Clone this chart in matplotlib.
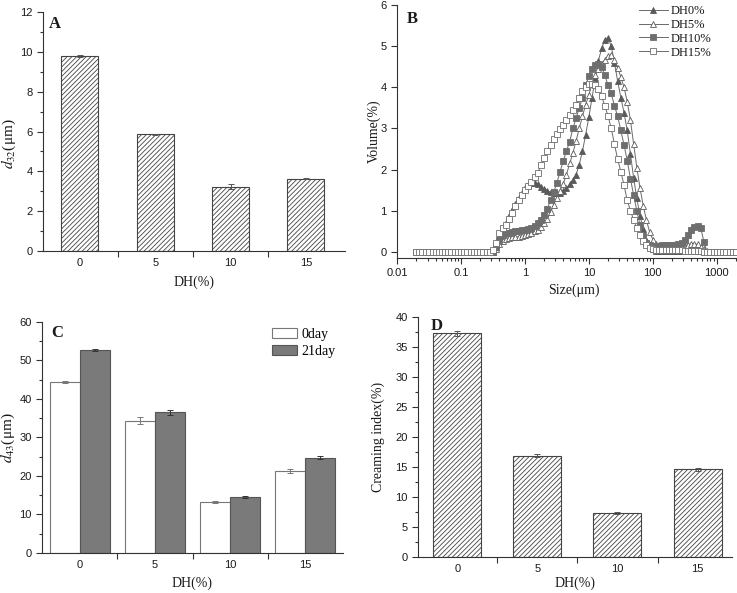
import matplotlib
matplotlib.use('Agg')
import matplotlib.pyplot as plt
from matplotlib.ticker import MultipleLocator, FixedLocator, LogLocator, NullFormatter, FixedFormatter

plt.rcParams['font.family'] = ['Liberation Sans', 'DejaVu Sans']
plt.rcParams['mathtext.fontset'] = 'stix'
plt.rcParams['hatch.linewidth'] = 0.6
plt.rcParams['hatch.color'] = '#6a6a6a'

# ---------------- data ----------------
dh_labels = ['0', '5', '10', '15']

d32 = [9.80, 5.87, 3.23, 3.63]
d32_err = [0.05, 0.03, 0.12, 0.03]

d43_day0 = [44.5, 34.4, 13.3, 21.3]
d43_day0_err = [0.3, 0.9, 0.3, 0.5]
d43_day21 = [52.7, 36.5, 14.6, 24.8]
d43_day21_err = [0.3, 0.6, 0.3, 0.5]

creaming = [37.3, 16.9, 7.3, 14.6]
creaming_err = [0.4, 0.2, 0.2, 0.3]

size_um = [0.020, 0.022, 0.025, 0.028, 0.032, 0.036, 0.040, 0.045, 0.050, 0.056,
           0.063, 0.071, 0.080, 0.089, 0.100, 0.112, 0.126, 0.142, 0.159, 0.178,
           0.200, 0.224, 0.252, 0.283, 0.317, 0.356, 0.399, 0.448, 0.502, 0.564,
           0.632, 0.710, 0.796, 0.893, 1.002, 1.125, 1.262, 1.416, 1.589, 1.783,
           2.000, 2.244, 2.518, 2.825, 3.170, 3.557, 3.991, 4.477, 5.024, 5.637,
           6.325, 7.096, 7.962, 8.934, 10.024, 11.247, 12.619, 14.159, 15.887, 17.825,
           20.000, 22.440, 25.179, 28.251, 31.698, 35.566, 39.905, 44.774, 50.238, 56.368,
           63.246, 70.963, 79.621, 89.337, 100.237, 112.468, 126.191, 141.589, 158.866, 178.250,
           200.000, 224.404, 251.785, 282.508, 316.979, 355.656, 399.052, 447.744, 502.377, 563.677,
           632.456, 709.627, 796.214, 893.367, 1002.374, 1124.683, 1261.915, 1415.892, 1588.656, 1782.502,
           2000.000]

vol_dh0 = [0, 0, 0, 0, 0, 0, 0, 0, 0, 0,
           0, 0, 0, 0, 0, 0, 0, 0, 0, 0,
           0, 0, 0, 0, 0, 0.12, 0.32, 0.52, 0.70, 0.86,
           1.02, 1.17, 1.30, 1.44, 1.55, 1.63, 1.68, 1.68, 1.64, 1.58,
           1.53, 1.49, 1.45, 1.43, 1.42, 1.44, 1.48, 1.55, 1.64, 1.74,
           1.88, 2.12, 2.45, 2.85, 3.28, 3.75, 4.22, 4.65, 4.95, 5.15,
           5.21, 5.00, 4.60, 4.15, 3.75, 3.38, 2.95, 2.38, 1.80, 1.30,
           0.88, 0.55, 0.30, 0.15, 0.07, 0.03, 0.02, 0.02, 0.02, 0.02,
           0.02, 0.02, 0.02, 0.02, 0.02, 0.02, 0.02, 0.02, 0.02, 0.01,
           0, 0, 0, 0, 0, 0, 0, 0, 0, 0,
           0]

vol_dh5 = [0, 0, 0, 0, 0, 0, 0, 0, 0, 0,
           0, 0, 0, 0, 0, 0, 0, 0, 0, 0,
           0, 0, 0, 0, 0, 0.08, 0.18, 0.26, 0.31, 0.34,
           0.35, 0.36, 0.37, 0.38, 0.40, 0.43, 0.47, 0.50, 0.54, 0.61,
           0.70, 0.80, 0.96, 1.15, 1.32, 1.48, 1.66, 1.88, 2.15, 2.40,
           2.70, 3.00, 3.30, 3.58, 3.82, 4.07, 4.30, 4.45, 4.57, 4.67,
           4.75, 4.78, 4.66, 4.48, 4.25, 4.00, 3.65, 3.20, 2.62, 2.05,
           1.55, 1.12, 0.78, 0.48, 0.30, 0.20, 0.13, 0.10, 0.08, 0.07,
           0.07, 0.08, 0.10, 0.12, 0.14, 0.17, 0.19, 0.20, 0.18, 0.12,
           0.06, 0.02, 0, 0, 0, 0, 0, 0, 0, 0,
           0]

vol_dh10 = [0, 0, 0, 0, 0, 0, 0, 0, 0, 0,
            0, 0, 0, 0, 0, 0, 0, 0, 0, 0,
            0, 0, 0, 0, 0, 0.12, 0.30, 0.40, 0.45, 0.47,
            0.49, 0.50, 0.51, 0.52, 0.54, 0.56, 0.59, 0.64, 0.70, 0.78,
            0.89, 1.05, 1.25, 1.45, 1.68, 1.95, 2.22, 2.45, 2.68, 3.00,
            3.25, 3.50, 3.75, 4.05, 4.28, 4.45, 4.55, 4.57, 4.49, 4.29,
            4.05, 3.85, 3.55, 3.30, 2.95, 2.60, 2.22, 1.78, 1.38, 1.00,
            0.65, 0.38, 0.22, 0.16, 0.14, 0.14, 0.15, 0.16, 0.16, 0.16,
            0.16, 0.17, 0.18, 0.22, 0.30, 0.42, 0.52, 0.60, 0.62, 0.58,
            0.24, 0, 0, 0, 0, 0, 0, 0, 0, 0,
            0]

vol_dh15 = [0, 0, 0, 0, 0, 0, 0, 0, 0, 0,
            0, 0, 0, 0, 0, 0, 0, 0, 0, 0,
            0, 0, 0, 0, 0.05, 0.22, 0.45, 0.58, 0.66, 0.80,
            0.95, 1.12, 1.25, 1.37, 1.50, 1.60, 1.70, 1.82, 1.92, 2.10,
            2.28, 2.45, 2.60, 2.75, 2.87, 2.98, 3.08, 3.20, 3.32, 3.45,
            3.58, 3.75, 3.92, 4.00, 4.07, 4.08, 4.05, 3.96, 3.78, 3.55,
            3.30, 3.00, 2.62, 2.25, 1.95, 1.62, 1.25, 1.00, 0.78, 0.58,
            0.42, 0.27, 0.16, 0.09, 0.06, 0.05, 0.05, 0.05, 0.05, 0.05,
            0.05, 0.05, 0.04, 0.04, 0.03, 0.03, 0.02, 0.02, 0.02, 0.01,
            0, 0, 0, 0, 0, 0, 0, 0, 0, 0,
            0]

# ---------------- style helpers ----------------
SPINE = '#333333'
TXT = '#1a1a1a'
SERIF = ['Liberation Serif', 'DejaVu Serif']


def style_axes(ax):
    for s in ['top', 'right']:
        ax.spines[s].set_visible(False)
    for s in ['left', 'bottom']:
        ax.spines[s].set_color(SPINE)
        ax.spines[s].set_linewidth(0.8)
    ax.tick_params(which='both', direction='out', color=SPINE, width=0.8,
                   labelsize=8, labelcolor=TXT)
    ax.tick_params(which='major', length=4)
    ax.tick_params(which='minor', length=2)


def category_ticks(ax):
    ax.set_xticks(range(len(dh_labels)))
    ax.set_xticklabels(dh_labels)
    ax.tick_params(axis='x', which='major', length=0, pad=5)
    ax.xaxis.set_minor_locator(FixedLocator([0.5, 1.5, 2.5]))
    ax.tick_params(axis='x', which='minor', length=4)


def labels(ax, xlabel, ylabel, xpos, ypos, xsize=10, ysize=10):
    ax.set_xlabel(xlabel, fontsize=xsize, family=SERIF, color=TXT)
    ax.xaxis.label.set_va('center')
    ax.xaxis.set_label_coords(xpos[0], xpos[1])
    ax.set_ylabel(ylabel, fontsize=ysize, family=SERIF, color=TXT)
    ax.yaxis.label.set_va('center')
    ax.yaxis.set_label_coords(ypos[0], ypos[1])


fig = plt.figure(figsize=(7.37, 5.93), dpi=100)

# ---------------- A ----------------
axA = fig.add_axes([0.0583, 0.5767, 0.4098, 0.4030])
style_axes(axA)
xA = list(range(len(dh_labels)))
axA.bar(xA, d32, width=0.49, color='white', edgecolor='#444444', linewidth=0.8,
        hatch='///////', zorder=2)
axA.errorbar(xA, d32, yerr=d32_err, fmt='none', ecolor='#555555', elinewidth=0.7,
             capsize=2, capthick=0.7, zorder=3)
axA.set_xlim(-0.49, 3.52)
axA.set_ylim(0, 12)
axA.yaxis.set_major_locator(MultipleLocator(2))
axA.yaxis.set_minor_locator(MultipleLocator(1))
category_ticks(axA)
labels(axA, 'DH(%)', r'$d_{32}$(μm)', (0.5, -0.13), (-0.112, 0.45), ysize=11)
axA.text(0.02, 0.985, 'A', transform=axA.transAxes, fontsize=12, fontweight='bold',
         family=SERIF, va='top', ha='left', color=TXT)

# ---------------- B ----------------
axB = fig.add_axes([0.5387, 0.5649, 0.4613, 0.4266])
style_axes(axB)
series = [
    (vol_dh0, 'DH0%', '^', '#5a5a5a', '#5a5a5a'),
    (vol_dh5, 'DH5%', '^', 'white', '#5a5a5a'),
    (vol_dh10, 'DH10%', 's', '#6e6e6e', '#6e6e6e'),
    (vol_dh15, 'DH15%', 's', 'white', '#6e6e6e'),
]
for vals, lab, mk, fc, ec in series:
    axB.plot(size_um, vals, color='#6a6a6a', lw=0.7, marker=mk, markersize=4,
             markerfacecolor=fc, markeredgecolor=ec, markeredgewidth=0.6, label=lab)
axB.set_xscale('log')
axB.set_xlim(0.01, 2080)
axB.set_ylim(-0.15, 6)
axB.yaxis.set_major_locator(MultipleLocator(1))
axB.xaxis.set_major_locator(FixedLocator([0.01, 0.1, 1, 10, 100, 1000]))
axB.xaxis.set_major_formatter(FixedFormatter(['0.01', '0.1', '1', '10', '100', '1000']))
axB.xaxis.set_minor_locator(LogLocator(base=10, subs=[2, 3, 4, 5, 6, 7, 8, 9], numticks=20))
axB.xaxis.set_minor_formatter(NullFormatter())
labels(axB, 'Size(μm)', 'Volume(%)', (0.52, -0.128), (-0.068, 0.5))
axB.text(0.03, 0.975, 'B', transform=axB.transAxes, fontsize=12, fontweight='bold',
         family=SERIF, va='top', ha='left', color=TXT)
leg = axB.legend(loc='upper left', bbox_to_anchor=(0.712, 1.0), frameon=False,
                 prop={'family': SERIF, 'size': 9}, handlelength=2.3,
                 labelspacing=0.15, handletextpad=0.2, borderaxespad=0.0, borderpad=0.0)
for t in leg.get_texts():
    t.set_color(TXT)

# ---------------- C ----------------
axC = fig.add_axes([0.0570, 0.0675, 0.4084, 0.3895])
style_axes(axC)
xC = list(range(len(dh_labels)))
xC0 = [v - 0.2 for v in xC]
xC21 = [v + 0.2 for v in xC]
axC.bar(xC0, d43_day0, width=0.4, color='white', edgecolor='#777777', linewidth=0.8,
        zorder=2, label='0day')
axC.bar(xC21, d43_day21, width=0.4, color='#7a7a7a', edgecolor='#555555', linewidth=0.8,
        zorder=2, label='21day')
axC.errorbar(xC0, d43_day0, yerr=d43_day0_err, fmt='none', ecolor='#777777',
             elinewidth=0.7, capsize=2, capthick=0.7, zorder=3)
axC.errorbar(xC21, d43_day21, yerr=d43_day21_err, fmt='none', ecolor='#333333',
             elinewidth=0.7, capsize=2, capthick=0.7, zorder=3)
axC.set_xlim(-0.5, 3.5)
axC.set_ylim(0, 60)
axC.yaxis.set_major_locator(MultipleLocator(10))
axC.yaxis.set_minor_locator(MultipleLocator(5))
category_ticks(axC)
labels(axC, 'DH(%)', r'$d_{43}$(μm)', (0.5, -0.13), (-0.112, 0.5), ysize=11)
axC.text(0.03, 0.985, 'C', transform=axC.transAxes, fontsize=12, fontweight='bold',
         family=SERIF, va='top', ha='left', color=TXT)
legC = axC.legend(loc='upper left', bbox_to_anchor=(0.764, 0.975), frameon=False,
                  prop={'family': SERIF, 'size': 10}, handlelength=1.8, handleheight=0.75,
                  labelspacing=0.3, handletextpad=0.3, borderaxespad=0.0, borderpad=0.0)

# ---------------- D ----------------
axD = fig.add_axes([0.5672, 0.0607, 0.4260, 0.4047])
style_axes(axD)
xD = list(range(len(dh_labels)))
axD.bar(xD, creaming, width=0.6, color='white', edgecolor='#444444', linewidth=0.8,
        hatch='///////', zorder=2)
axD.errorbar(xD, creaming, yerr=creaming_err, fmt='none', ecolor='#555555',
             elinewidth=0.7, capsize=2, capthick=0.7, zorder=3)
axD.set_xlim(-0.49, 3.43)
axD.set_ylim(0, 40)
axD.yaxis.set_major_locator(MultipleLocator(5))
axD.yaxis.set_minor_locator(MultipleLocator(2.5))
category_ticks(axD)
labels(axD, 'DH(%)', 'Creaming index(%)', (0.5, -0.108), (-0.127, 0.5))
axD.text(0.04, 0.995, 'D', transform=axD.transAxes, fontsize=12, fontweight='bold',
         family=SERIF, va='top', ha='left', color=TXT)

fig.savefig('out.png', dpi=100, facecolor='white')
